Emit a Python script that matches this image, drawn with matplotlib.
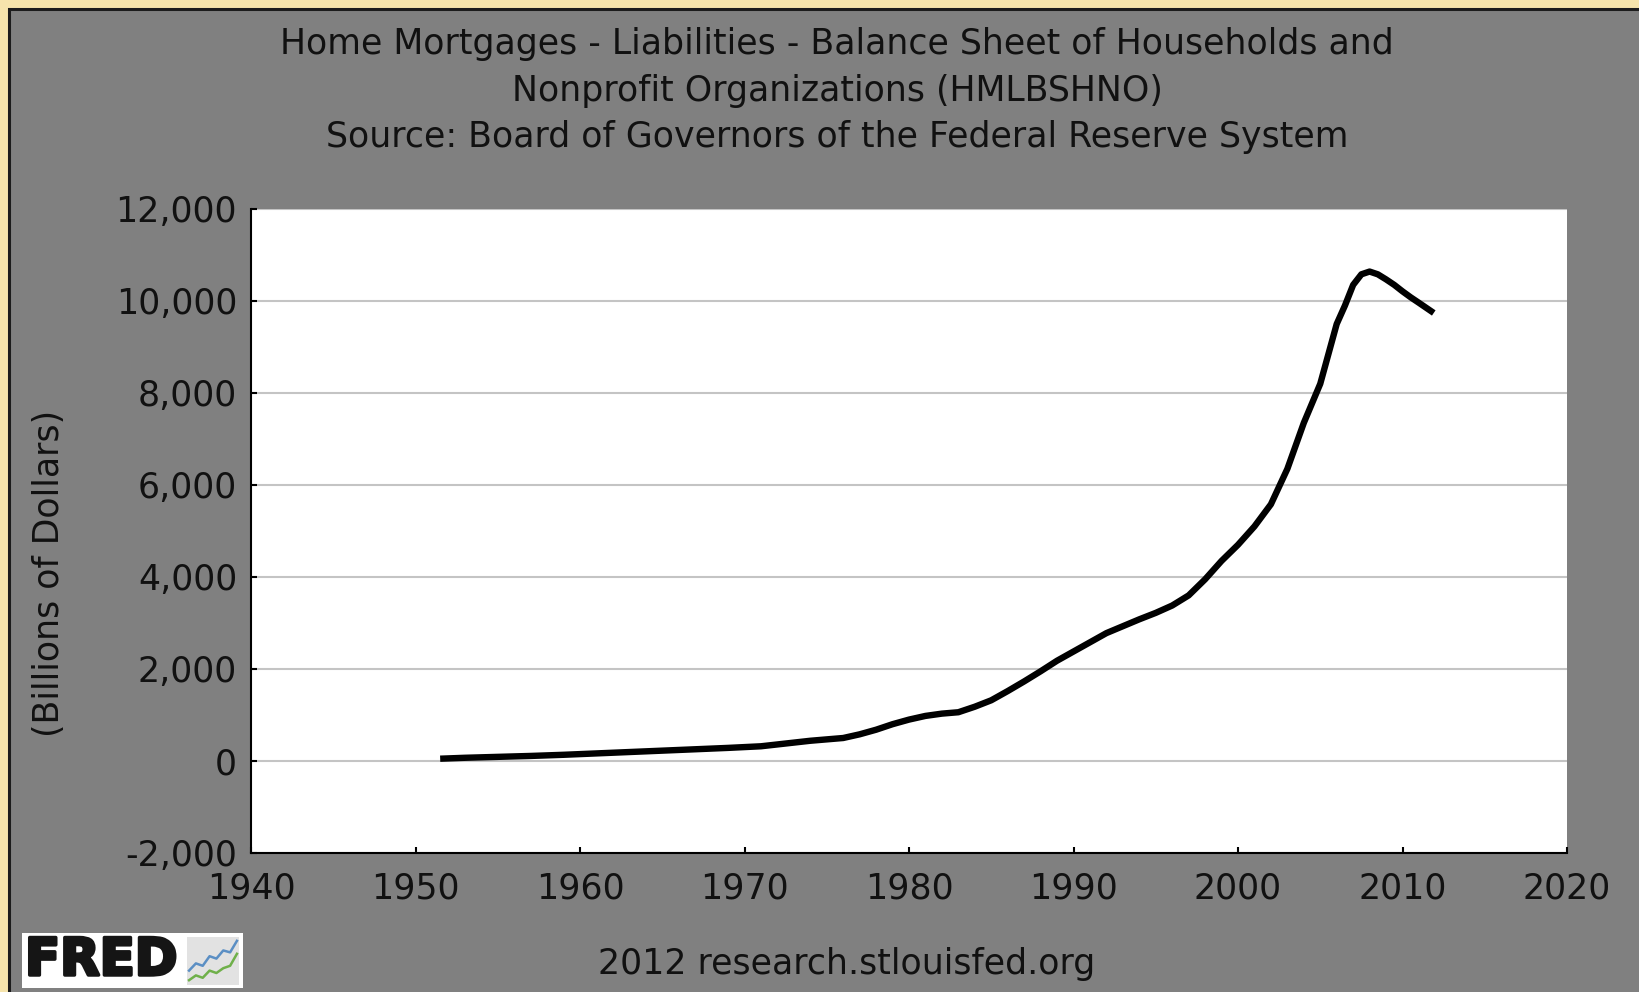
import matplotlib
matplotlib.use("Agg")
import matplotlib.pyplot as plt
import matplotlib.patheffects as pe
from matplotlib.patches import Rectangle
from matplotlib.ticker import FuncFormatter

# ---- data ----
years = [1951.5, 1953, 1955, 1957, 1959, 1961, 1963, 1965, 1967, 1969,
         1971, 1972, 1973, 1974, 1975, 1976, 1977, 1978, 1979, 1980,
         1981, 1982, 1983, 1984, 1985, 1986, 1987, 1988, 1989, 1990,
         1991, 1992, 1993, 1994, 1995, 1996, 1997, 1998, 1999, 2000,
         2001, 2002, 2003, 2004, 2005, 2005.5, 2006, 2006.5, 2007, 2007.5,
         2008, 2008.5, 2009, 2009.5, 2010, 2010.5, 2011, 2011.9]
values = [50, 70, 90, 110, 135, 165, 195, 225, 255, 285,
          320, 360, 400, 440, 470, 500, 580, 680, 800, 900,
          980, 1030, 1060, 1180, 1320, 1520, 1730, 1950, 2180, 2380,
          2580, 2780, 2930, 3080, 3220, 3380, 3600, 3950, 4350, 4700,
          5100, 5580, 6350, 7350, 8200, 8850, 9500, 9900, 10350, 10580,
          10640, 10580, 10470, 10350, 10210, 10080, 9960, 9740]

x_ticks = [1940, 1950, 1960, 1970, 1980, 1990, 2000, 2010, 2020]
y_ticks = [-2000, 0, 2000, 4000, 6000, 8000, 10000, 12000]

title_lines = ["Home Mortgages - Liabilities - Balance Sheet of Households and",
               "Nonprofit Organizations (HMLBSHNO)",
               "Source: Board of Governors of the Federal Reserve System"]
y_label = "(Billions of Dollars)"
footer = "2012 research.stlouisfed.org"

# FRED logo icon (decoration)
icon_blue = [0.3, 0.45, 0.4, 0.6, 0.55, 0.72, 0.68, 0.92]
icon_green = [0.1, 0.2, 0.15, 0.3, 0.25, 0.35, 0.4, 0.65]

W, H = 1640, 992
GOLD = "#f6e4ac"
GRAY = "#808080"
FONT = "DejaVu Sans"
FS = 25

fig = plt.figure(figsize=(W / 100, H / 100), dpi=100, facecolor=GOLD)

# gray panel with dark border
fig.patches.append(Rectangle((9 / W, -0.05), 1.1, (H - 9) / H + 0.05,
                             transform=fig.transFigure, facecolor=GRAY,
                             edgecolor="#1c1c1c", linewidth=2.2, zorder=-5))

ax = fig.add_axes([251 / W, 1 - 853 / H, (1567 - 251) / W, (853 - 209) / H])
ax.set_zorder(5)
ax.set_facecolor("white")
ax.plot(years, values, color="black", linewidth=4.6, solid_capstyle="butt",
        solid_joinstyle="round", zorder=3)

ax.set_xlim(1940, 2020)
ax.set_ylim(-2000, 12000)
ax.set_xticks(x_ticks)
ax.set_yticks(y_ticks)
ax.yaxis.set_major_formatter(FuncFormatter(lambda v, p: f"{int(v):,}"))
ax.grid(axis="y", color="#c4c4c4", linewidth=1.5, zorder=1)
ax.grid(axis="x", visible=False)
for s in ["top", "right"]:
    ax.spines[s].set_visible(False)
for s in ["left", "bottom"]:
    ax.spines[s].set_color("black")
    ax.spines[s].set_linewidth(1.5)
ax.tick_params(direction="in", length=4, width=1.5, color="black",
               labelsize=FS, labelcolor="#111111")
ax.tick_params(axis="y", pad=10)
ax.tick_params(axis="x", pad=13)
for lab in ax.get_xticklabels() + ax.get_yticklabels():
    lab.set_family(FONT)

# title
for i, t in enumerate(title_lines):
    fig.text(837 / W, 1 - (44 + 46.5 * i) / H, t, ha="center", va="center",
             fontsize=FS, family=FONT, color="#111111")

fig.text(49 / W, 1 - 573 / H, y_label, rotation=90, ha="center", va="center",
         fontsize=FS, family=FONT, color="#111111")
fig.text(847 / W, 1 - 964 / H, footer, ha="center", va="center",
         fontsize=FS, family=FONT, color="#111111")

# FRED logo
fig.patches.append(Rectangle((22 / W, 1 - 988 / H), 221 / W, 55 / H,
                             transform=fig.transFigure, facecolor="white",
                             edgecolor="none", zorder=2))
fig.text(25 / W, 1 - 961 / H, "FRED", ha="left", va="center", fontsize=37,
         family=FONT, fontweight="heavy", color="#151515", zorder=3,
         path_effects=[pe.withStroke(linewidth=2.5, foreground="#151515")])
iax = fig.add_axes([187 / W, 1 - 985 / H, 52 / W, 48 / H])
iax.set_zorder(10)
iax.set_facecolor("#e2e2e2")
iax.plot(range(len(icon_blue)), icon_blue, color="#5b8fc4", linewidth=1.8)
iax.plot(range(len(icon_green)), icon_green, color="#6fb04a", linewidth=1.8)
iax.set_xlim(-0.3, len(icon_blue) - 0.7)
iax.set_ylim(0, 1)
iax.set_xticks([]); iax.set_yticks([])
for s in iax.spines.values():
    s.set_visible(False)

fig.savefig("out.png", dpi=100, facecolor=GOLD)
